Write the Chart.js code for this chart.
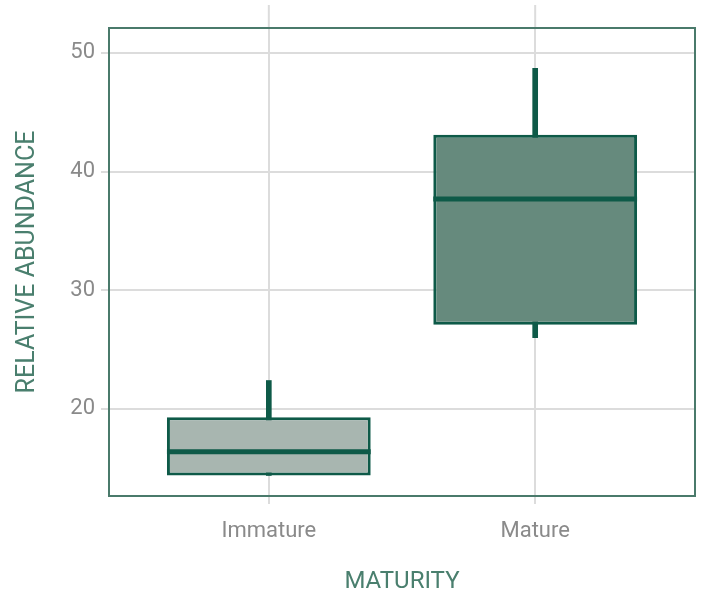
<!DOCTYPE html>
<html>
<head>
<meta charset="utf-8">
<script src="https://cdn.jsdelivr.net/npm/chart.js@4"></script>
<style>
  html, body { margin: 0; padding: 0; background: #fff; }
  #wrap { width: 704px; height: 596px; }
</style>
</head>
<body>
<div id="wrap"><canvas id="box-chart"></canvas></div>
<script>
// values
const categories = ['Immature', 'Mature'];
const whiskerLow = [14.4, 26.0];
const q1 = [14.4, 27.1];
const median = [16.4, 37.7];
const q3 = [19.3, 43.1];
const whiskerHigh = [22.4, 48.7];
const yTicks = [20, 30, 40, 50];

const FONT = "'Roboto', sans-serif";
const DARK = '#0e5a48';
const GRID = '#dcdcdc';
const fills = ['#a8b6b0', '#668a7d'];

// median bars, the grid stubs above the panel and the panel border
const boxExtras = {
  id: 'boxExtras',
  beforeDatasetsDraw(chart) {
    const { ctx, chartArea, scales } = chart;
    ctx.save();
    ctx.strokeStyle = GRID;
    ctx.lineWidth = 2;
    categories.forEach((c, i) => {
      const x = scales.x.getPixelForValue(i + 1);
      ctx.beginPath();
      ctx.moveTo(x, chartArea.top);
      ctx.lineTo(x, 5);
      ctx.stroke();
    });
    ctx.restore();
  },
  afterDatasetsDraw(chart) {
    const { ctx, chartArea, scales } = chart;
    const meta = chart.getDatasetMeta(1);
    ctx.save();
    ctx.strokeStyle = DARK;
    ctx.lineWidth = 5;
    meta.data.forEach((bar, i) => {
      const y = scales.y.getPixelForValue(median[i]);
      ctx.beginPath();
      ctx.moveTo(bar.x - bar.width / 2, y);
      ctx.lineTo(bar.x + bar.width / 2, y);
      ctx.stroke();
    });
    ctx.strokeStyle = '#4a7a6b';
    ctx.lineWidth = 2;
    ctx.strokeRect(chartArea.left, chartArea.top, chartArea.right - chartArea.left, chartArea.bottom - chartArea.top);
    ctx.restore();
  }
};

new Chart(document.getElementById('box-chart'), {
  type: 'bar',
  data: {
    datasets: [{
      label: 'whisker',
      data: categories.map((c, i) => ({ x: i + 1, y: [whiskerLow[i], whiskerHigh[i]] })),
      backgroundColor: DARK,
      barThickness: 5,
      grouped: false,
      order: 2
    }, {
      label: 'box',
      data: categories.map((c, i) => ({ x: i + 1, y: [q1[i], q3[i]] })),
      backgroundColor: fills,
      borderColor: DARK,
      borderWidth: 3,
      borderSkipped: false,
      categoryPercentage: 0.765,
      barPercentage: 1,
      grouped: false,
      order: 1
    }]
  },
  options: {
    responsive: true,
    maintainAspectRatio: false,
    animation: false,
    layout: { padding: { top: 28, right: 9, left: 0, bottom: 0 } },
    plugins: {
      legend: { display: false },
      tooltip: { enabled: false }
    },
    scales: {
      x: {
        type: 'linear',
        min: 0.4,
        max: 2.6,
        offset: false,
        afterBuildTicks: s => { s.ticks = categories.map((c, i) => ({ value: i + 1 })); },
        afterFit: s => { s.height = 100; },
        ticks: {
          callback: v => categories[v - 1],
          color: '#8a8a8a',
          font: { family: FONT, size: 22 },
          padding: 14
        },
        grid: { color: GRID, lineWidth: 2, tickLength: 8, offset: false },
        border: { display: false },
        title: {
          display: true,
          text: 'MATURITY',
          color: '#4a7f6e',
          font: { family: FONT, size: 24 },
          padding: { top: 16, bottom: 0 }
        }
      },
      y: {
        min: 12.67,
        max: 52.1,
        afterBuildTicks: s => { s.ticks = yTicks.map(v => ({ value: v })); },
        afterFit: s => { s.width = 109; },
        ticks: {
          color: '#8a8a8a',
          font: { family: FONT, size: 22 },
          padding: 6
        },
        grid: { color: GRID, lineWidth: 2, tickLength: 8 },
        border: { display: false },
        title: {
          display: true,
          text: 'RELATIVE ABUNDANCE',
          color: '#4a7f6e',
          font: { family: FONT, size: 25 },
          padding: { top: 13, bottom: 10 }
        }
      }
    }
  },
  plugins: [boxExtras]
});
</script>
</body>
</html>
